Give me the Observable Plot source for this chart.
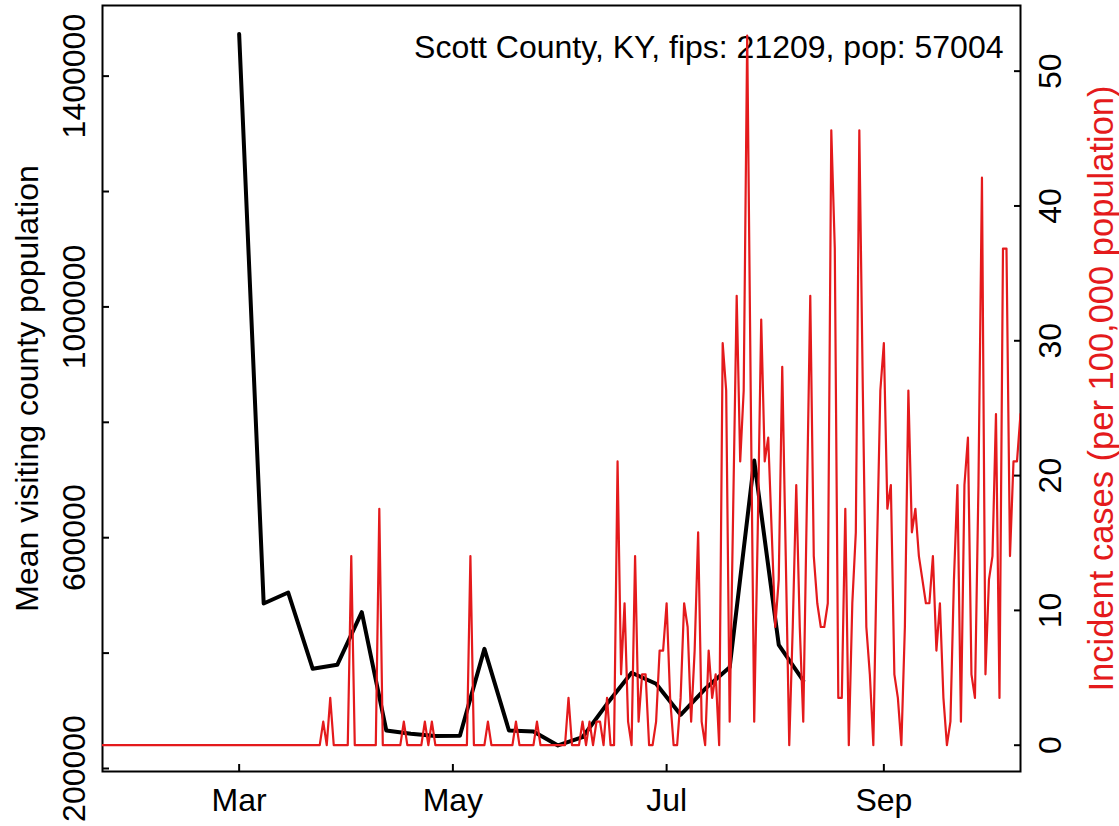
<!DOCTYPE html>
<html><head><meta charset="utf-8">
<script src="https://cdn.jsdelivr.net/npm/d3@7"></script>
<script src="https://cdn.jsdelivr.net/npm/@observablehq/plot@0.6"></script>
<style>
html,body{margin:0;padding:0;background:#fff;}
#chart{position:relative;width:1119px;height:826px;overflow:hidden;}
#chart svg{position:absolute;left:0;top:0;}
</style></head><body><div id="chart"></div>
<script>
// ---- text ----
const countyLabel = "Scott County, KY, fips: 21209, pop: 57004";
const leftTitle = "Mean visiting county population";
const rightTitle = "Incident cases (per 100,000 population)";

// ---- incident cases per 100,000 (daily, from 2020-01-22) ----
const firstDay = "2020-01-22";
const janRates = [0,0,0,0,0,0,0,0,0,0];
const febRates = [0,0,0,0,0,0,0,0,0,0,0,0,0,0,0,0,0,0,0,0,0,0,0,0,0,0,0,0,0];
const marRates = [0,0,0,0,0,0,0,0,0,0,0,0,0,0,0,0,0,0,0,0,0,0,0,0,1.75,0,3.51,0,0,0,0];
const aprRates = [0,14.03,0,0,0,0,0,0,0,17.54,0,0,0,0,0,0,1.75,0,0,0,0,0,1.75,0,1.75,0,0,0,0,0];
const mayRates = [0,0,0,0,0,14.03,0,0,0,0,1.75,0,0,0,0,0,0,0,1.75,0,0,0,0,0,1.75,0,0,0,0,0,0];
const junRates = [0,0,3.51,0,0,0,1.75,0,1.75,0,1.75,1.75,0,3.51,0,0,21.05,5.26,10.53,1.75,0,14.03,1.75,5.26,5.26,0,0,1.75,7.02,7.02];
const julRates = [10.53,3.51,0,0,3.51,10.53,8.77,1.75,7.02,15.79,1.75,0,7.02,3.51,5.26,0,29.82,26.31,1.75,17.54,33.33,21.05,26.31,52.63,26.31,1.75,15.79,31.58,21.05,22.81,15.79];
const augRates = [8.77,12.28,28.07,14.03,0,8.77,19.30,8.77,1.75,17.54,33.33,14.03,10.53,8.77,8.77,10.53,45.61,36.84,3.51,3.51,17.54,0,10.53,15.79,45.61,26.31,8.77,5.26,0,14.03,26.31];
const sepRates = [29.82,17.54,19.30,5.26,3.51,0,8.77,26.31,15.79,17.54,14.03,12.28,10.53,10.53,14.03,7.02,10.53,3.51,0,1.75,12.28,19.30,1.75,19.30,22.81,5.26,3.51,19.30,42.10,5.26];
const octRates = [12.28,14.03,24.56,3.51,36.84,36.84,14.03,21.05,21.05,24.56];

// ---- mean visiting county population (weekly, from 2020-03-01) ----
const weekStart = "2020-03-01";
const visitingMean = [1473000,486000,505000,372800,379700,470900,265900,260100,256300,256700,407400,265900,264100,239900,254200,312100,365900,346800,293100,338100,375600,733800,414400,352500];

// ---- axes ----
const leftTicks = [200000,400000,600000,800000,1000000,1200000,1400000];
const leftTickLabels = [200000,600000,1000000,1400000];
const rightTicks = [0,10,20,30,40,50];
const monthTicks = ["2020-03-01","2020-05-01","2020-07-01","2020-09-01"];
const monthLabels = ["Mar","May","Jul","Sep"];
const xStart = "2020-01-22", xEnd = "2020-10-10";
const leftDomain = [194800, 1522400];
const rightDomain = [-1.95, 54.87];

const RED = "#E41A1C";
const FONT = "'Liberation Sans', Arial, Helvetica, sans-serif";
const FS = 32;
const FS_RIGHT_TITLE = 34.5;

const rates = [].concat(janRates, febRates, marRates, aprRates, mayRates, junRates, julRates, augRates, sepRates, octRates);
const d0 = new Date(firstDay);
const redData = rates.map((v, i) => ({date: d3.utcDay.offset(d0, i), value: v}));
const w0 = new Date(weekStart);
const blackData = visitingMean.map((v, i) => ({date: d3.utcDay.offset(w0, 7 * i), value: v}));
const monthDates = monthTicks.map(s => new Date(s));
const monthName = d => monthLabels[monthTicks.indexOf(d3.utcFormat("%Y-%m-%d")(d))];

const common = {
  width: 1119, height: 826,
  marginTop: 5, marginBottom: 55, marginLeft: 102, marginRight: 99
};
const xScale = {type: "utc", domain: [new Date(xStart), new Date(xEnd)], label: null};

const p1 = Plot.plot({
  ...common,
  style: {fontFamily: FONT, fontSize: FS + "px", background: "white", color: "black", overflow: "visible"},
  x: xScale,
  y: {domain: leftDomain, label: null},
  marks: [
    Plot.text([countyLabel], {text: d => d, frameAnchor: "top-right", dx: -17, dy: 30, textAnchor: "end", lineAnchor: "top", fontSize: FS, fill: "black"}),
    Plot.lineY(blackData, {x: "date", y: "value", stroke: "black", strokeWidth: 4}),
    Plot.axisY(leftTicks, {anchor: "left", tickSize: 7, dx: 7, fill: "none", stroke: "black", strokeWidth: 2, label: null}),
    Plot.axisY(leftTickLabels, {anchor: "left", tickSize: 0, tickPadding: 18, tickRotate: -90, tickFormat: d3.format("d"), fontSize: FS, fill: "black", label: null}),
    Plot.axisX(monthDates, {anchor: "bottom", tickSize: 7, dy: -7, fill: "none", stroke: "black", strokeWidth: 2, label: null}),
    Plot.axisX(monthDates, {anchor: "bottom", tickSize: 0, tickPadding: 17, tickFormat: monthName, fontSize: FS, fill: "black", label: null}),
    Plot.text([leftTitle], {text: d => d, frameAnchor: "left", dx: -75, rotate: -90, textAnchor: "middle", lineAnchor: "middle", fontSize: FS, fill: "black"}),
    Plot.frame({stroke: "black", strokeWidth: 2})
  ]
});

const p2 = Plot.plot({
  ...common,
  style: {fontFamily: FONT, fontSize: FS + "px", background: "transparent", color: "black", overflow: "visible"},
  x: {...xScale, axis: null},
  y: {domain: rightDomain, label: null},
  marks: [
    Plot.lineY(redData, {x: "date", y: "value", stroke: RED, strokeWidth: 2.2, clip: true}),
    Plot.axisY(rightTicks, {anchor: "right", tickSize: 7, dx: -7, fill: "none", stroke: "black", strokeWidth: 2, label: null}),
    Plot.axisY(rightTicks, {anchor: "right", tickSize: 0, tickPadding: 17.5, tickRotate: -90, lineAnchor: "top", fontSize: FS, fill: "black", label: null}),
    Plot.text([rightTitle], {text: d => d, frameAnchor: "right", dx: 81, rotate: -90, textAnchor: "middle", lineAnchor: "middle", fontSize: FS_RIGHT_TITLE, fill: RED})
  ]
});

const chart = document.getElementById("chart");
chart.appendChild(p1);
chart.appendChild(p2);
</script>
</body></html>
